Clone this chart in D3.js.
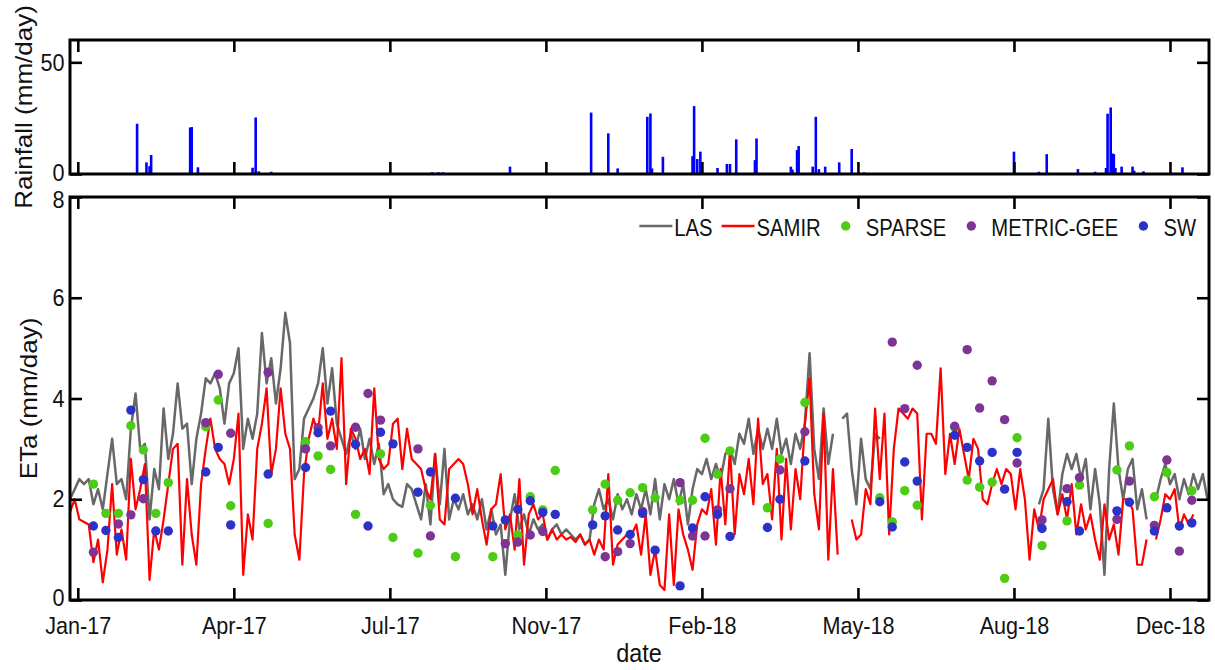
<!DOCTYPE html>
<html><head><meta charset="utf-8">
<script src="https://cdn.jsdelivr.net/npm/d3@7"></script>
<style>
body{margin:0;background:#fff}
svg{display:block}
text{font-family:"Liberation Sans",Arial,Helvetica,sans-serif;fill:#111}
</style>
</head><body>
<svg id="chart" width="1215" height="670"></svg>
<script>
// ---------------- data ----------------
const seriesStart = "2017-01-01";
const lineStepDays = 3;   // one value every 3 days from seriesStart
const lasValues = [2.0,2.2,2.4,2.3,2.4,1.9,2.2,1.8,2.5,3.2,2.3,2.4,2.0,3.4,4.1,3.0,3.1,1.6,2.6,2.2,
3.8,2.8,3.3,4.3,3.4,3.5,2.3,3.2,3.7,4.4,4.3,4.5,4.2,3.5,4.3,4.5,5.0,3.0,3.6,3.2,
3.7,5.3,4.3,4.8,3.9,4.6,5.7,5.1,2.4,2.6,3.6,3.8,4.0,4.3,5.0,3.9,4.6,3.5,3.2,2.9,
3.3,3.0,3.4,2.8,3.2,2.7,3.1,2.1,2.3,2.0,1.9,1.85,2.3,2.2,1.9,1.6,2.3,1.5,2.9,1.9,
3.0,1.6,2.0,1.8,2.1,1.7,1.9,1.6,2.0,1.4,1.8,1.3,1.5,0.5,1.6,2.1,1.4,1.7,1.3,1.6,
1.4,1.5,1.2,1.4,1.5,1.3,1.4,1.3,1.2,1.3,1.1,1.2,1.9,2.2,1.8,2.0,1.6,2.1,1.8,2.0,
1.7,2.1,1.8,2.2,1.7,2.4,1.6,2.3,2.0,2.4,1.9,2.3,1.5,2.2,2.6,2.5,2.8,2.4,2.7,2.4,
2.9,3.0,2.7,3.3,3.1,3.6,2.9,3.4,3.0,3.4,3.0,3.6,2.9,3.2,2.7,3.3,3.0,3.5,4.9,3.0,
2.4,3.8,2.7,3.3,null,3.6,3.7,2.6,1.9,3.2,2.4,2.2,3.3,3.2,
null,null,null,null,null,null,null,null,null,null,null,null,null,null,null,null,null,
null,null,null,null,null,null,null,null,null,null,null,null,null,null,null,null,
1.9,2.2,3.6,2.2,1.7,2.5,2.9,2.6,2.9,2.4,2.8,1.8,2.6,1.9,0.5,2.6,3.9,2.6,2.0,2.6,
2.8,1.8,2.2,1.6,null,2.0,2.4,2.7,2.3,2.5,2.0,2.4,2.1,2.5,2.2,2.5,2.0];
const samirValues = [1.75,2.0,1.6,1.55,1.5,0.75,1.2,0.35,1.0,2.3,0.9,1.4,0.8,2.8,1.8,2.2,2.7,0.4,1.4,1.0,
1.6,2.3,3.0,3.1,0.7,2.4,1.3,0.7,2.3,3.0,3.6,3.0,2.8,2.7,2.3,2.8,3.7,0.5,1.7,1.2,
3.0,3.5,4.2,2.5,3.0,4.2,3.3,3.0,1.3,0.8,2.5,3.2,3.6,3.3,4.3,3.2,3.6,3.0,4.8,2.3,
3.4,3.2,2.8,3.0,2.5,4.2,2.8,2.6,2.7,3.5,3.6,2.6,3.4,2.8,2.7,2.6,2.2,2.0,2.9,1.6,
1.5,2.6,2.7,2.8,2.7,2.3,1.7,2.2,1.6,1.1,1.8,1.9,2.5,1.4,1.7,1.0,2.4,0.7,1.7,1.9,
1.6,1.7,1.2,1.4,1.2,1.3,1.2,1.25,1.15,1.3,1.1,1.2,0.9,1.2,1.0,2.5,0.7,1.1,1.2,1.3,
1.3,1.5,0.9,1.7,0.5,1.0,0.3,0.2,1.7,0.3,1.8,1.3,1.0,0.6,1.5,1.8,1.7,2.2,1.1,2.6,
1.5,3.0,1.3,2.5,2.1,2.8,1.9,3.6,2.3,2.5,1.6,3.0,1.2,2.8,1.4,2.6,2.0,3.5,4.4,2.1,
1.4,3.7,0.8,2.6,0.9,null,null,1.6,1.2,1.3,2.2,1.9,3.8,2.4,3.7,1.3,3.0,3.8,3.7,3.6,
3.8,3.7,1.6,3.3,3.3,3.1,4.6,2.5,3.3,2.7,3.4,2.9,2.4,3.2,3.0,2.0,1.9,2.3,2.6,2.3,
2.6,2.5,1.8,2.6,2.0,0.8,1.8,1.4,2.0,2.2,2.4,1.7,2.1,1.6,2.3,1.3,1.9,1.4,1.7,1.2,
0.8,1.9,1.2,1.5,0.9,2.0,2.0,1.8,0.7,0.7,1.2,null,1.2,1.6,2.1,2.0,2.2,1.4,1.7,1.5,
1.7,null,null,null];

// satellite overpass days (days after seriesStart)
const obsDays = [15,23,31,39,47,55,63,87,95,103,127,151,159,167,183,191,199,207,223,231,
247,271,279,287,295,303,311,335,343,351,359,367,375,391,399,407,415,423,447,455,
471,519,527,535,543,567,575,583,591,599,607,623,639,647,671,679,695,703,711,719];
const sparseValues = [2.30,1.72,1.72,3.46,2.98,1.72,2.33,3.44,3.97,1.87,1.52,3.14,2.86,2.59,1.70,null,2.90,1.24,0.93,1.88,
0.86,0.86,null,1.29,2.05,1.79,2.57,1.79,2.30,1.98,2.13,2.23,2.03,1.98,1.98,3.21,2.50,2.96,1.83,2.80,
3.92,2.03,1.55,2.17,1.88,3.43,2.38,2.24,2.34,0.43,3.22,1.08,1.57,2.28,2.58,3.06,2.05,2.53,null,2.17];
const metricValues = [0.95,null,1.51,1.69,2.01,null,null,3.52,4.48,3.31,4.52,3.00,3.42,3.06,3.43,4.10,3.57,null,3.00,1.27,
null,null,1.12,1.15,1.29,1.36,null,null,0.86,0.96,1.12,1.76,null,2.33,1.27,1.27,1.79,2.21,null,2.58,
3.34,null,5.12,3.80,4.66,3.45,4.97,3.81,4.35,3.58,2.72,1.59,2.21,2.43,1.60,2.36,1.48,2.78,0.97,1.98];
const swValues = [1.47,1.38,1.24,3.77,2.39,1.37,1.37,2.54,3.03,1.49,2.50,2.63,3.32,3.75,3.09,1.47,3.33,3.10,2.14,2.54,
2.02,1.47,1.59,1.80,1.97,1.74,1.70,1.49,1.67,1.39,1.30,1.72,0.99,0.28,1.43,2.05,1.70,1.26,1.44,2.00,
2.76,1.95,1.45,2.74,2.36,3.27,3.03,2.76,2.93,2.20,2.93,1.42,1.95,1.37,1.77,1.94,1.37,1.83,1.47,1.53];

// rainfall (days after seriesStart, mm/day)
const rainDays = [43,49,51,52,60,66,68,77,78,82,110,117,119,121,129,232,236,239,282,334,345,351,
370,372,373,380,399,400,402,404,415,421,423,427,439,440,462,463,466,467,476,478,480,484,493,501,509,
605,621,626,634,638,642,646,657,664,665,667,668,669,670,674,681,682,688,713];
const rainValues = [22.5,5.2,3.5,8.5,0.3,0.3,0.3,20.8,21.0,3.0,0.3,2.8,25.3,1.2,1.0,0.8,0.8,0.8,3.3,27.5,18.2,2.5,
25.6,27.1,2.5,7.7,8.0,30.4,6.7,10.0,2.7,4.5,4.5,15.5,6.2,15.9,3.3,2.0,10.7,12.5,3.3,25.6,2.2,3.3,5.2,11.2,0.7,
10.0,1.0,8.9,0.4,0.4,0.4,2.2,1.0,2.7,27.0,29.8,9.2,8.9,2.7,3.3,3.3,1.5,1.2,3.0];

const tickDates = ["2017-01-06","2017-04-16","2017-07-25","2017-11-02","2018-02-10","2018-05-21","2018-08-29","2018-12-07"];
const tickLabels = ["Jan-17","Apr-17","Jul-17","Nov-17","Feb-18","May-18","Aug-18","Dec-18"];
const etaTicks = [0,2,4,6,8];
const rainTicks = [0,50];
const legendNames = ["LAS","SAMIR","SPARSE","METRIC-GEE","SW"];

// ---------------- chart ----------------
const parse = d3.utcParse("%Y-%m-%d");
const t0 = parse(seriesStart);
const dayToDate = d => d3.utcDay.offset(t0, d);

const colors = {LAS:"#686868", SAMIR:"#ff0000", SPARSE:"#4ccc14", "METRIC-GEE":"#7e3494", SW:"#2c32c8"};
const SQ = 0.9; // horizontal squeeze of the original figure's lettering

const svg = d3.select("#chart");
const L = 70, R = 1209;
const x = d3.scaleUtc().domain([parse("2017-01-01"), parse("2019-01-01")]).range([L, R]);
const rainTop = 40, rainBot = 174, etTop = 197, etBot = 600;
const yRain = d3.scaleLinear().domain([0, 60]).range([rainBot, rainTop]);
const yEta = d3.scaleLinear().domain([0, 8]).range([etBot, etTop]);
const tickD = tickDates.map(parse);
const fmt = d => tickLabels[tickD.findIndex(t => +t === +d)];

// rainfall bars
svg.append("g").selectAll("rect").data(rainDays.map((d, i) => ({date: dayToDate(d), v: rainValues[i]})))
  .join("rect")
  .attr("x", d => x(d.date) - 1.3).attr("width", 2.6)
  .attr("y", d => yRain(d.v)).attr("height", d => yRain(0) - yRain(d.v))
  .attr("fill", "#0000ff");

// ET lines
const toPts = vals => vals.map((v, i) => ({date: dayToDate(i * lineStepDays), v}));
const line = d3.line().defined(p => p.v != null).x(p => x(p.date)).y(p => yEta(p.v));
svg.append("path").datum(toPts(lasValues)).attr("d", line)
  .attr("fill", "none").attr("stroke", colors.LAS).attr("stroke-width", 2.5).attr("stroke-linejoin", "round");
svg.append("path").datum(toPts(samirValues)).attr("d", line)
  .attr("fill", "none").attr("stroke", colors.SAMIR).attr("stroke-width", 2.2).attr("stroke-linejoin", "round");

// scatter
[["SPARSE", sparseValues], ["METRIC-GEE", metricValues], ["SW", swValues]].forEach(([name, vals]) => {
  svg.append("g").selectAll("circle")
    .data(obsDays.map((d, i) => ({date: dayToDate(d), v: vals[i]})).filter(p => p.v != null))
    .join("circle")
    .attr("cx", p => x(p.date)).attr("cy", p => yEta(p.v)).attr("r", 4.7)
    .attr("fill", colors[name]);
});

// frames and axes
function styleAxis(g) {
  g.select(".domain").remove();
  g.selectAll(".tick line").attr("stroke", "#000").attr("stroke-width", 2.6);
  g.selectAll(".tick text").attr("fill", "#111").style("font-size", "24px")
    .attr("transform", `scale(${SQ},1)`);
}
const TK = 12;
function panel(top, bot, yScale, yTicks, labelsBottom, labelNudge) {
  svg.append("g").attr("transform", `translate(0,${bot})`)
    .call(d3.axisBottom(x).tickValues(tickD).tickSize(-TK).tickPadding(17).tickFormat(labelsBottom ? fmt : ""))
    .call(styleAxis);
  svg.append("g").attr("transform", `translate(0,${top})`)
    .call(d3.axisTop(x).tickValues(tickD).tickSize(-TK).tickFormat(""))
    .call(styleAxis);
  const ya = svg.append("g").attr("transform", `translate(${L},0)`)
    .call(d3.axisLeft(yScale).tickValues(yTicks).tickSize(-TK).tickPadding(6).tickFormat(d3.format("d")))
    .call(styleAxis);
  ya.selectAll(".tick text").attr("y", d => labelNudge(d));
  svg.append("g").attr("transform", `translate(${R},0)`)
    .call(d3.axisRight(yScale).tickValues(yTicks).tickSize(-TK).tickFormat(""))
    .call(styleAxis);
  svg.append("rect").attr("x", L).attr("y", top).attr("width", R - L).attr("height", bot - top)
    .attr("fill", "none").attr("stroke", "#000").attr("stroke-width", 3);
}
panel(rainTop, rainBot, yRain, rainTicks, false, d => d === 0 ? -1 : 0);
panel(etTop, etBot, yEta, etaTicks, true, d => d === 8 ? 3 : (d === 0 ? -2 : 0));

// axis titles
svg.append("text").attr("transform", `translate(32,${(rainTop + rainBot) / 2}) scale(${SQ},1) rotate(-90)`)
  .attr("text-anchor", "middle").style("font-size", "26px").text("Rainfall (mm/day)");
svg.append("text").attr("transform", `translate(37,${(etTop + etBot) / 2}) scale(${SQ},1) rotate(-90)`)
  .attr("text-anchor", "middle").style("font-size", "26px").text("ETa (mm/day)");
svg.append("text").attr("transform", `translate(639,662) scale(${SQ},1)`)
  .attr("text-anchor", "middle").style("font-size", "26px").text("date");

// legend (laid out right-aligned, ending near the right frame)
const lg = svg.append("g");
const items = legendNames.map(n => ({name: n, kind: (n === "LAS" || n === "SAMIR") ? "line" : "dot"}));
const ly = 226, lfs = 23;
const tmp = lg.append("text").style("font-size", lfs + "px");
items.forEach(it => { tmp.text(it.name); it.w = tmp.node().getComputedTextLength() * 0.88; });
tmp.remove();
let cx = 0;
items.forEach((it, i) => {
  if (it.kind === "line") { it.sym = cx; it.tx = cx + 35; cx = it.tx + it.w + 9; }
  else { if (i > 0 && items[i - 1].kind === "line") cx += 16; it.sym = cx; it.tx = cx + 20; cx = it.tx + it.w + 25; }
});
const shift = 1196 - (items[items.length - 1].tx + items[items.length - 1].w);
items.forEach(it => {
  if (it.kind === "line") {
    lg.append("line").attr("x1", it.sym + shift).attr("x2", it.sym + shift + 33)
      .attr("y1", ly).attr("y2", ly).attr("stroke", colors[it.name]).attr("stroke-width", 2.4);
  } else {
    lg.append("circle").attr("cx", it.sym + shift).attr("cy", ly).attr("r", 4.7).attr("fill", colors[it.name]);
  }
  lg.append("text").attr("transform", `translate(${it.tx + shift},${ly + 10}) scale(0.88,1)`)
    .style("font-size", lfs + "px").text(it.name);
});
</script>
</body></html>
